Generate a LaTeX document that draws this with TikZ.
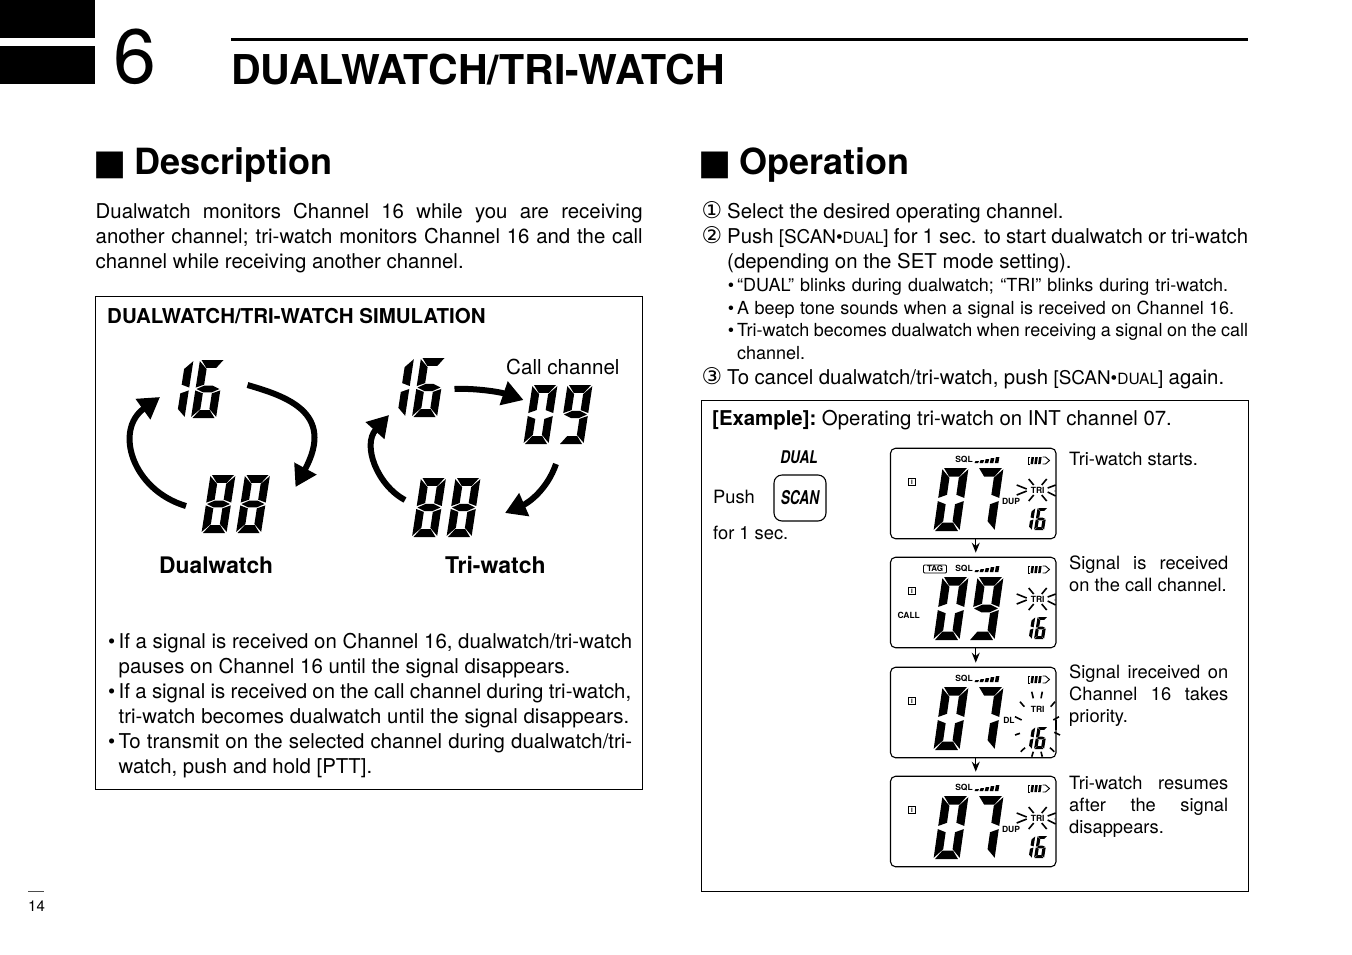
\documentclass[tikz,border=0pt]{standalone}
\usepackage{fontspec}
\setmainfont{TeX Gyre Heros}
\newfontfamily\dejavu{DejaVu Sans}
\usetikzlibrary{arrows.meta, positioning}

\newcommand{\fsz}[2]{\fontsize{#1}{#2}\selectfont}
\newcommand{\jl}[2]{\makebox[#1pt][s]{#2}}
\newcommand{\scandual}{{\fsz{18.9}{25}[SCAN•{\fsz{15.5}{25}DUAL}]}}

% segments of one display digit, unit width, height 2
\def\sega{(.06,2) -- (.94,2) -- (.70,1.73) -- (.30,1.73) -- cycle}
\def\segb{(1,1.96) -- (1,1.05) -- (.68,1.15) -- (.68,1.69) -- cycle}
\def\segc{(1,.95) -- (1,.04) -- (.68,.31) -- (.68,.85) -- cycle}
\def\segd{(.06,0) -- (.94,0) -- (.70,.27) -- (.30,.27) -- cycle}
\def\sege{(0,.95) -- (.32,.85) -- (.32,.31) -- (0,.04) -- cycle}
\def\segf{(0,1.96) -- (.32,1.69) -- (.32,1.15) -- (0,1.05) -- cycle}
\def\segg{(.04,1) -- (.34,1.12) -- (.66,1.12) -- (.96,1) -- (.66,.88) -- (.34,.88) -- cycle}
\newcommand{\lcddigit}[6]{%
  \begin{scope}[cm={#3,0,-#5,-#4,(#1,#2)}]
    \foreach \s in {#6}{\expandafter\fill\csname seg\s\endcsname;}
  \end{scope}}

% rays round the TRI mark, y counted from the top of the panel
\newcommand{\trirays}{%
  \foreach \a/\b/\c/\d in {-9/-11/-4/-5, 9/-11/4/-5, -9/11/-4/5, 9/11/4/5,
      -21/-5/-11/-1, -21/5/-11/1, 18/-5/10/-2, 18/6/10/2}
    \draw[ray] ({1037.7+\a},{42+\b}) -- ({1037.7+\c},{42+\d});
  \fill (1055,43) circle (.7pt);}

% one display panel, #1 name, #2 top edge
\newcommand{\lcdpanel}[2]{%
  \node[panel] (#1) at (973.25,{#2+45.5}) {};
  \begin{scope}[shift={(0,#2)}]
    \node[lcdtext] (#1sql) at (964,12) {SQL};
    \foreach \i in {0,...,4}
      \fill ({974.5+5.1*\i},15) -- ({978+5.1*\i},15) -- ({979+5.1*\i},{13-\i}) -- ({975.5+5.1*\i},{13-\i}) -- cycle;
    \draw[line width=.9pt] (1030,9) -- (1028,9) -- (1028,16) -- (1030,16);
    \foreach \i in {0,1,2}
      \fill ({1030.5+3.8*\i},16) -- ({1033+3.8*\i},16) -- ({1034+3.8*\i},9) -- ({1031.5+3.8*\i},9) -- cycle;
    \draw[line width=.9pt] (1042.5,9) -- (1045.5,9) -- (1049.5,12.5) -- (1045.5,16) -- (1042.5,16);
    \node[draw, line width=.7pt, minimum size=7.5pt, inner sep=0pt, font=\fsz{6}{7}\bfseries] (#1ind) at (912,34) {I};
    \node[lcdtext] (#1tri) at (1037.7,42) {TRI};
    \lcddigit{1021.7}{82}{10}{11}{1.8}{b,c}
    \lcddigit{1034}{82}{10}{11}{1.8}{a,c,d,e,f,g}
  \end{scope}}

\begin{document}
\begin{tikzpicture}[
    x=1pt, y=-1pt,
    every node/.style={inner sep=0pt},
    body/.style={anchor=north west, align=left, font=\fsz{20.4}{25}},
    small/.style={anchor=north west, align=left, font=\fsz{18}{22.5}},
    side/.style={anchor=north west, align=left, font=\fsz{18.3}{21.8}},
    line/.style={anchor=base west},
    frame/.style={draw=black, line width=1pt},
    panel/.style={draw=black, line width=1.1pt, rounded corners=5pt, minimum width=165.5pt, minimum height=90.5pt},
    lcdtext/.style={font=\fsz{8.5}{9}\bfseries},
    ray/.style={line width=1.6pt},
    cyclearrow/.style={line width=6pt, -{Triangle[length=21pt, width=24pt]}},
    flowarrow/.style={line width=1.3pt, -{Stealth[length=10pt, width=8pt]}, shorten >=4pt}
]
\useasboundingbox (0,0) rectangle (1352,954);

% page heading
\fill (0,0) rectangle (95,38);
\fill (0,46) rectangle (95,84);
\fill (231,38) rectangle (1248,41);
\node[line, font=\fsz{77}{80}] (chapter) at (113,83) {6};
\node[line, font=\fsz{41.1}{44}\bfseries] (title) at (231,84) {DUALWATCH/TRI-WATCH};
\draw[line width=.8pt, black!70] (28,891) -- (44,891);
\node[line, font=\fsz{15}{18}] (pageno) at (28,911) {14};

% description
\node[line, font=\fsz{35}{38}\dejavu] (markdesc) at (93,174) {■};
\node[line, font=\fsz{36.1}{38}\bfseries] (desc) at (134,174) {Description};
\node[body] (desctext) at (95.5,203) {\jl{547}{Dualwatch monitors Channel 16 while you are receiving}\\
  \jl{547}{another channel; tri-watch monitors Channel 16 and the call}\\
  channel while receiving another channel.};

\node[frame, anchor=north west, minimum width=547pt, minimum height=493pt] (simbox) at (95,296) {};
\node[line, font=\fsz{20.5}{22}\bfseries] (simtitle) at (107,323) {DUALWATCH/TRI-WATCH SIMULATION};

% dualwatch cycle
\lcddigit{159.5}{418}{25}{29}{4.5}{b,c}
\lcddigit{191}{418}{25}{29}{4.5}{a,c,d,e,f,g}
\lcddigit{201.5}{533}{25}{29}{4.5}{a,b,c,d,e,f,g}
\lcddigit{236}{533}{25}{29}{4.5}{a,b,c,d,e,f,g}
\coordinate (dualtop) at (247.5,385);
\coordinate (dualright) at (295.5,487);
\coordinate (dualbot) at (186,506);
\coordinate (dualleft) at (160,397);
\draw[cyclearrow] (dualtop) .. controls (285,396) and (336,412) .. (dualright);
\draw[cyclearrow] (dualbot) .. controls (132,490) and (114,430) .. (dualleft);
\node[line, font=\fsz{22.8}{25}\bfseries] (duallabel) at (159,573) {Dualwatch};

% tri-watch cycle
\lcddigit{380}{417}{25}{29.5}{4.5}{b,c}
\lcddigit{412}{417}{25}{29.5}{4.5}{a,c,d,e,f,g}
\lcddigit{523.5}{444}{25}{29.5}{4.5}{a,b,c,d,e,f}
\lcddigit{558.5}{444}{25}{29.5}{4.5}{a,b,c,d,f,g}
\lcddigit{412}{537}{25}{29.5}{4.5}{a,b,c,d,e,f,g}
\lcddigit{446.5}{537}{25}{29.5}{4.5}{a,b,c,d,e,f,g}
\coordinate (tritop) at (454.5,389);
\coordinate (tricall) at (523.5,400);
\coordinate (tricallb) at (556,464);
\coordinate (tribot) at (505,513);
\coordinate (tribotb) at (405,500);
\coordinate (trileft) at (389,415);
\draw[cyclearrow] (tritop) .. controls (475,388) and (500,392) .. (tricall);
\draw[cyclearrow] (tricallb) .. controls (547,490) and (528,503) .. (tribot);
\draw[cyclearrow] (tribotb) .. controls (377,485) and (362,445) .. (trileft);
\node[line, font=\fsz{20.6}{22}] (calllabel) at (506,374) {Call channel};
\node[line, font=\fsz{23}{25}\bfseries] (trilabel) at (445,573) {Tri-watch};

\node[body] (notes) at (118.5,633) {\llap{•\,}\jl{513.5}{If a signal is received on Channel 16, dualwatch/tri-watch}\\
  \jl{451.5}{pauses on Channel 16 until the signal disappears.}\\
  \llap{•\,}\jl{512.5}{If a signal is received on the call channel during tri-watch,}\\
  \jl{510.5}{tri-watch becomes dualwatch until the signal disappears.}\\
  \llap{•\,}\jl{513.5}{To transmit on the selected channel during dualwatch/tri-}\\
  \jl{253.5}{watch, push and hold [PTT].}};

% operation
\node[line, font=\fsz{35}{38}\dejavu] (markop) at (698,174) {■};
\node[line, font=\fsz{36}{38}\bfseries] (oper) at (739,174) {Operation};
\node[line, font=\fsz{23}{25}\dejavu] (num1) at (701.5,218) {①};
\node[line, font=\fsz{23}{25}\dejavu] (num2) at (701.5,243) {②};
\node[line, font=\fsz{23}{25}\dejavu] (num3) at (701.5,384) {③};
\node[body] (op1) at (727,203) {Select the desired operating channel.\\
  \jl{521}{Push \scandual{} for 1 sec. to start dualwatch or tri-watch}\\
  (depending on the SET mode setting).};
\node[small] (op2) at (737,278.5) {\llap{•\,}\jl{491}{“DUAL” blinks during dualwatch; “TRI” blinks during tri-watch.}\\
  \llap{•\,}\jl{497}{A beep tone sounds when a signal is received on Channel 16.}\\
  \llap{•\,}\jl{511}{Tri-watch becomes dualwatch when receiving a signal on the call}\\
  channel.};
\node[line, font=\fsz{20.4}{25}] (op3) at (727,384) {\jl{497}{To cancel dualwatch/tri-watch, push \scandual{} again.}};

% example
\node[frame, anchor=north west, minimum width=547pt, minimum height=491pt] (exbox) at (701,400) {};
\node[line, font=\fsz{20.4}{25}] (extitle) at (712,425) {\textbf{[Example]:}\kern 5.6pt Operating tri-watch on INT channel 07.};
\node[font=\fsz{17.5}{20}\bfseries\itshape, xscale=.78] (duallab) at (799,457) {DUAL};
\node[draw=black, line width=1.1pt, rounded corners=8pt, minimum width=52pt, minimum height=46pt] (scan) at (800,498) {};
\node[font=\fsz{19}{20}\bfseries\itshape, xscale=.72] (scanlab) at (800,498) {SCAN};
\node[line, font=\fsz{18.3}{21}] (push) at (713,503) {Push};
\node[line, font=\fsz{18.3}{21}] (forsec) at (713,539) {for 1 sec.};

\lcdpanel{lcda}{448}
\lcdpanel{lcdb}{557}
\lcdpanel{lcdc}{667}
\lcdpanel{lcdd}{776}

% first panel
\begin{scope}[shift={(0,448)}]
  \trirays
  \lcddigit{933.5}{83}{26}{31.5}{4.5}{a,b,c,d,e,f}
  \lcddigit{968.5}{83}{26}{31.5}{4.5}{a,b,c}
  \node[lcdtext] (lcdadup) at (1011,53) {DUP};
\end{scope}
% second panel
\begin{scope}[shift={(0,557)}]
  \trirays
  \lcddigit{933.5}{83}{26}{31.5}{4.5}{a,b,c,d,e,f}
  \lcddigit{968.5}{83}{26}{31.5}{4.5}{a,b,c,d,f,g}
  \node[draw, line width=.8pt, rounded corners=1pt, minimum width=23pt, minimum height=8pt, font=\fsz{8}{9}\bfseries] (lcdbtag) at (935,12) {TAG};
  \node[lcdtext] (lcdbcall) at (908.7,58) {CALL};
\end{scope}
% third panel
\begin{scope}[shift={(0,667)}]
  \lcddigit{933.5}{83}{26}{31.5}{4.5}{a,b,c,d,e,f}
  \lcddigit{968.5}{83}{26}{31.5}{4.5}{a,b,c}
  \node[lcdtext] (lcdcdl) at (1009,53) {DL};
  \foreach \a/\b/\c/\d in {1031.7/24.7/1033.3/31.3, 1042.3/24.7/1041/31.3, 1020/34.7/1024.3/39.7, 1055/34.7/1050.7/39.7,
      1059/49.7/1053.3/53, 1015/49.7/1021.7/53, 1055.7/53/1055.7/63, 1015/68/1020/66.3, 1060/68/1054.3/65.3,
      1020.7/84.7/1025/80.7, 1054.3/84.7/1050/80.7, 1031.7/89.7/1033.3/84.7, 1042.3/89.7/1041/84.7}
    \draw[ray] (\a,\b) -- (\c,\d);
\end{scope}
% fourth panel
\begin{scope}[shift={(0,776)}]
  \trirays
  \lcddigit{933.5}{83}{26}{31.5}{4.5}{a,b,c,d,e,f}
  \lcddigit{968.5}{83}{26}{31.5}{4.5}{a,b,c}
  \node[lcdtext] (lcdddup) at (1011,53) {DUP};
\end{scope}

\draw[flowarrow] ([xshift=2.5pt]lcda.south) -- ([xshift=2.5pt]lcdb.north);
\draw[flowarrow] ([xshift=2.5pt]lcdb.south) -- ([xshift=2.5pt]lcdc.north);
\draw[flowarrow] ([xshift=2.5pt]lcdc.south) -- ([xshift=2.5pt]lcdd.north);

\node[side] (note1) at (1069,452) {Tri-watch starts.};
\node[side] (note2) at (1069,556) {\jl{159}{Signal is received}\\on the call channel.};
\node[side] (note3) at (1069,665) {\jl{159}{Signal ireceived on}\\\jl{159}{Channel 16 takes}\\priority.};
\node[side] (note4) at (1069,776) {\jl{159}{Tri-watch resumes}\\\jl{159}{after the signal}\\disappears.};
\end{tikzpicture}
\end{document}
